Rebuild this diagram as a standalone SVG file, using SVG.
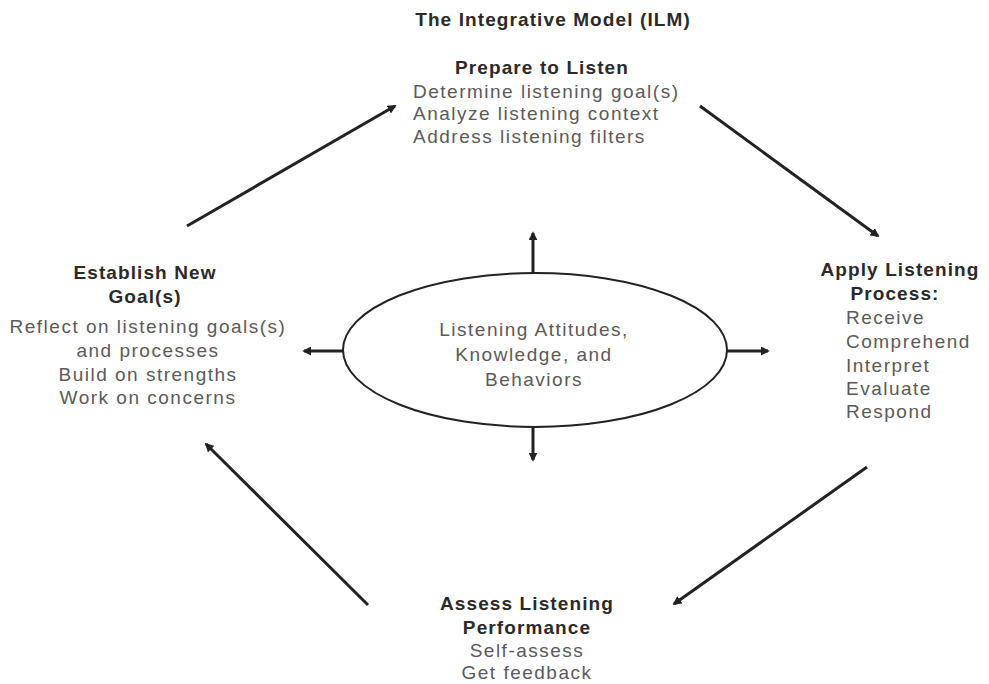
<svg xmlns="http://www.w3.org/2000/svg" width="989" height="684" viewBox="0 0 989 684">
<defs>
<style>
text{font-family:"Liberation Sans",Arial,sans-serif;font-size:19px;letter-spacing:1.5px;fill:#5a5a5a;}
.b{font-weight:bold;fill:#2a2a2a;letter-spacing:1.1px;}
.c{text-anchor:middle;}
.ln{stroke:#222;stroke-width:3;fill:none;}
</style>
<marker id="ah" viewBox="0 0 10 10" refX="8" refY="5" markerWidth="3" markerHeight="3" orient="auto">
<path d="M0,0 L10,5 L0,10 Z" fill="#222"/>
</marker>
</defs>
<rect width="989" height="684" fill="#fff"/>
<text id="title" class="b c" x="553" y="26">The Integrative Model (ILM)</text>
<g id="connectors">
<line class="ln" x1="187" y1="226" x2="395" y2="106" marker-end="url(#ah)"/>
<line class="ln" x1="700" y1="106" x2="878" y2="236" marker-end="url(#ah)"/>
<line class="ln" x1="867" y1="467" x2="674" y2="604" marker-end="url(#ah)"/>
<line class="ln" x1="368" y1="605" x2="206" y2="444" marker-end="url(#ah)"/>
<line class="ln" x1="533" y1="273" x2="533" y2="233" marker-end="url(#ah)"/>
<line class="ln" x1="533" y1="428" x2="533" y2="460" marker-end="url(#ah)"/>
<line class="ln" x1="343" y1="351" x2="304" y2="351" marker-end="url(#ah)"/>
<line class="ln" x1="727" y1="351" x2="768" y2="351" marker-end="url(#ah)"/>
</g>
<g id="center">
<ellipse cx="535" cy="350" rx="192" ry="77" fill="#fff" stroke="#222" stroke-width="2"/>
<text class="c" x="534" y="336">Listening Attitudes,</text>
<text class="c" x="534" y="361">Knowledge, and</text>
<text class="c" x="534" y="386">Behaviors</text>
</g>
<g id="prepare">
<text class="b c" x="542" y="74">Prepare to Listen</text>
<text x="413" y="98">Determine listening goal(s)</text>
<text x="413" y="120">Analyze listening context</text>
<text x="413" y="143">Address listening filters</text>
</g>
<g id="apply">
<text class="b c" x="900" y="276">Apply Listening</text>
<text class="b c" x="895" y="300">Process:</text>
<text x="846" y="324">Receive</text>
<text x="846" y="348">Comprehend</text>
<text x="846" y="372">Interpret</text>
<text x="846" y="395">Evaluate</text>
<text x="846" y="418">Respond</text>
</g>
<g id="assess">
<text class="b c" x="527" y="610">Assess Listening</text>
<text class="b c" x="527" y="634">Performance</text>
<text class="c" x="527" y="657">Self-assess</text>
<text class="c" x="527" y="679">Get feedback</text>
</g>
<g id="establish">
<text class="b c" x="145" y="279">Establish New</text>
<text class="b c" x="145" y="303">Goal(s)</text>
<text class="c" x="148" y="333">Reflect on listening goals(s)</text>
<text class="c" x="148" y="357">and processes</text>
<text class="c" x="148" y="381">Build on strengths</text>
<text class="c" x="148" y="404">Work on concerns</text>
</g>
</svg>
